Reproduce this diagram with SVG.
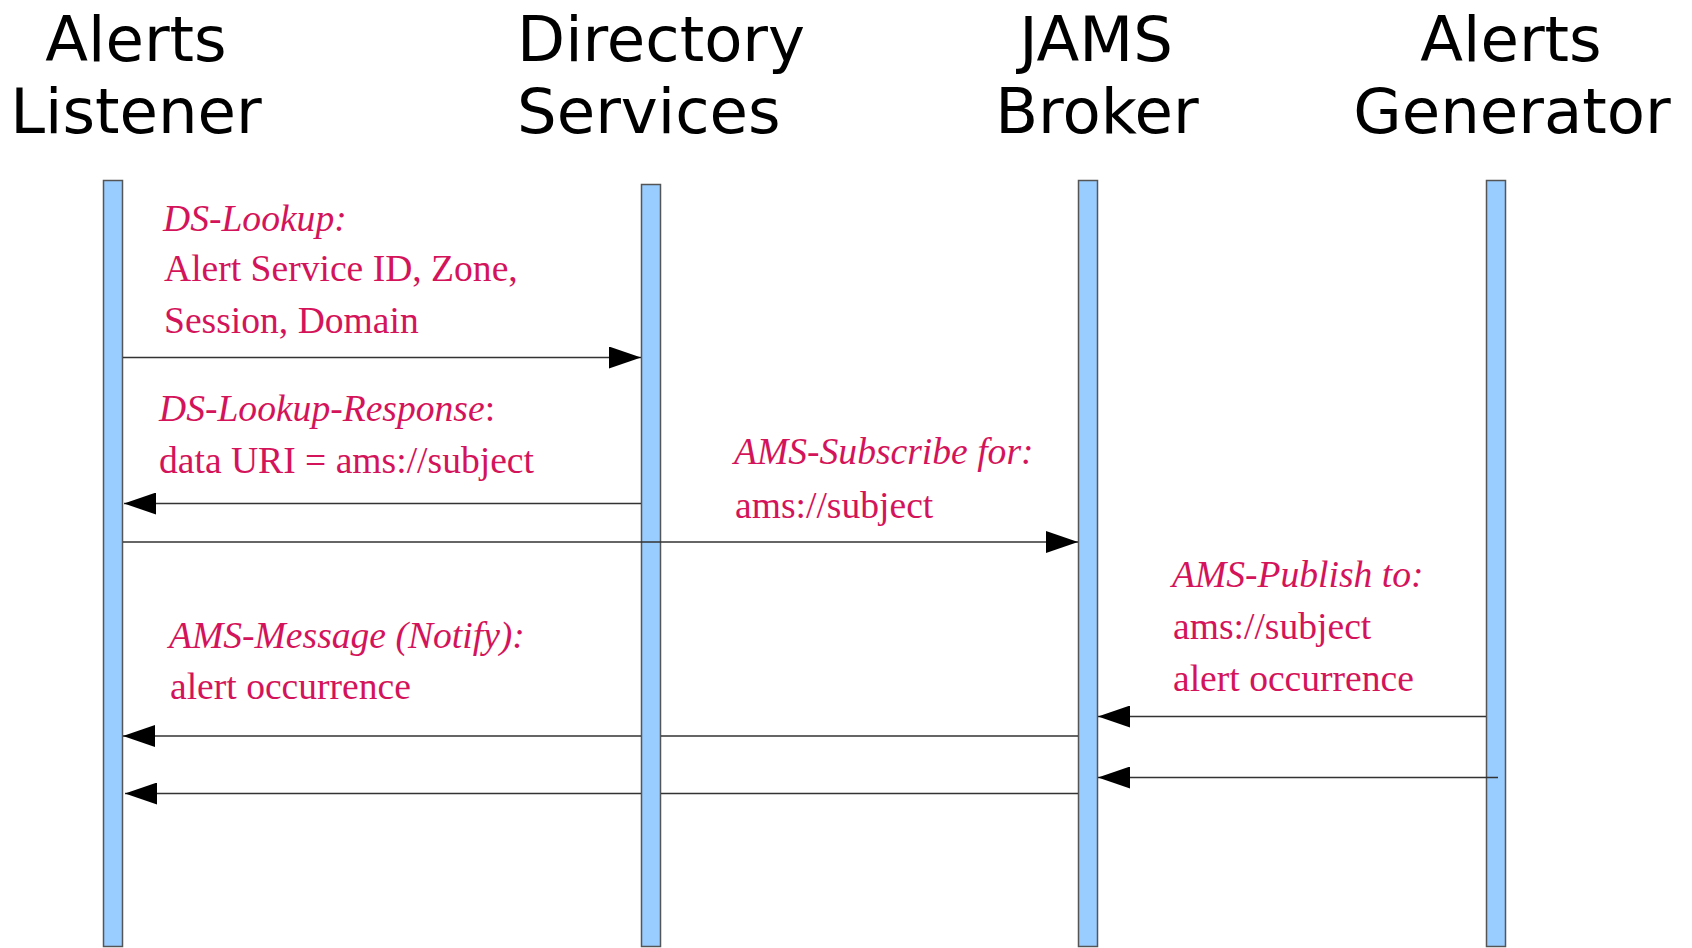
<svg xmlns="http://www.w3.org/2000/svg" width="1692" height="948" viewBox="0 0 1692 948">
  <style>
    .head { font-family: "DejaVu Sans", sans-serif; font-size: 62.5px; fill: #000; }
    .bar { fill: #99ccff; stroke: #555; stroke-width: 1.5; }
    .msg { stroke: #333; stroke-width: 1.4; fill: none; }
    .lbl { font-family: "Liberation Serif", "Times New Roman", serif; font-size: 37.6px; fill: #d4145a; }
    .it { font-style: italic; }
  </style>
  <defs>
    <marker id="arrow" viewBox="0 0 32 22" refX="32" refY="11" markerWidth="32" markerHeight="22" markerUnits="userSpaceOnUse" orient="auto">
      <path d="M0,0 L32,11 L0,22 Z" fill="#000"/>
    </marker>
  </defs>
  <rect width="1692" height="948" fill="#fff"/>

  <!-- lifelines -->
  <g id="alerts-listener">
    <text class="head" x="136" y="61" text-anchor="middle">Alerts</text>
    <text class="head" x="136" y="133" text-anchor="middle">Listener</text>
    <rect class="bar" x="103.5" y="180.5" width="19" height="766"/>
  </g>
  <g id="directory-services">
    <text class="head" x="517" y="61">Directory</text>
    <text class="head" x="517" y="133">Services</text>
    <rect class="bar" x="641.5" y="184.5" width="19" height="762"/>
  </g>
  <g id="jams-broker">
    <text class="head" x="1096" y="61" text-anchor="middle">JAMS</text>
    <text class="head" x="1097" y="133" text-anchor="middle">Broker</text>
    <rect class="bar" x="1078.5" y="180.5" width="19" height="766"/>
  </g>
  <g id="alerts-generator">
    <text class="head" x="1511" y="61" text-anchor="middle">Alerts</text>
    <text class="head" x="1512" y="133" text-anchor="middle">Generator</text>
    <rect class="bar" x="1486.5" y="180.5" width="19" height="766"/>
  </g>

  <!-- messages -->
  <g id="connectors">
    <path class="msg" d="M123,357.5 H641" marker-end="url(#arrow)"/>
    <path class="msg" d="M641,503.5 H124" marker-end="url(#arrow)"/>
    <path class="msg" d="M123,542 H1078" marker-end="url(#arrow)"/>
    <path class="msg" d="M1486,716.5 H1098" marker-end="url(#arrow)"/>
    <path class="msg" d="M1078,736 H661 M641,736 H123" marker-end="url(#arrow)"/>
    <path class="msg" d="M1498,777.5 H1098" marker-end="url(#arrow)"/>
    <path class="msg" d="M1078,793.5 H661 M641,793.5 H125" marker-end="url(#arrow)"/>
  </g>

  <g id="labels">
    <text class="lbl it" x="163" y="231">DS-Lookup:</text>
    <text class="lbl" x="164" y="281">Alert Service ID, Zone,</text>
    <text class="lbl" x="164" y="333">Session, Domain</text>

    <text class="lbl" x="159" y="421"><tspan class="it">DS-Lookup-Response</tspan>:</text>
    <text class="lbl" x="159" y="473">data URI = ams://subject</text>

    <text class="lbl it" x="734" y="464">AMS-Subscribe for:</text>
    <text class="lbl" x="735" y="518">ams://subject</text>

    <text class="lbl it" x="1172" y="587">AMS-Publish to:</text>
    <text class="lbl" x="1173" y="639">ams://subject</text>
    <text class="lbl" x="1173" y="691">alert occurrence</text>

    <text class="lbl it" x="169" y="648">AMS-Message (Notify):</text>
    <text class="lbl" x="170" y="699">alert occurrence</text>
  </g>
</svg>
